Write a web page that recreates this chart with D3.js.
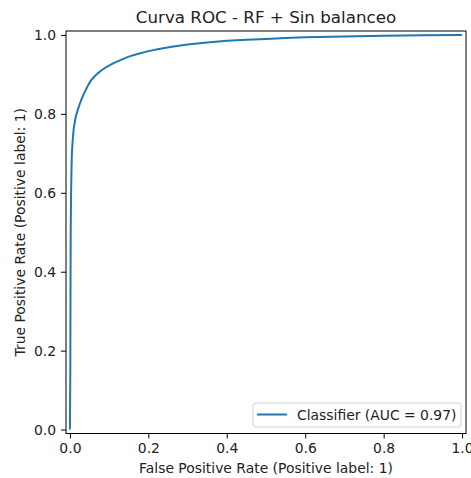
<!DOCTYPE html>
<html><head><meta charset="utf-8">
<script src="https://cdn.jsdelivr.net/npm/d3@7"></script>
<style>
html,body{margin:0;padding:0;background:#fff;}
svg{display:block;font-family:"DejaVu Sans",sans-serif;}
</style></head>
<body>
<svg id="chart" width="471" height="478"></svg>
<script>
const fpr = [0, 0.001, 0.0015, 0.002, 0.003, 0.004, 0.005, 0.0075, 0.01, 0.015, 0.02, 0.025, 0.03, 0.036, 0.045, 0.053, 0.06, 0.07, 0.08, 0.095, 0.11, 0.13, 0.15, 0.17, 0.2, 0.23, 0.26, 0.3, 0.35, 0.4, 0.45, 0.5, 0.55, 0.6, 0.7, 0.8, 0.9, 1.0];
const tpr = [0, 0.15, 0.35, 0.5, 0.6, 0.66, 0.70, 0.74, 0.765, 0.793, 0.81, 0.825, 0.838, 0.852, 0.87, 0.884, 0.892, 0.902, 0.91, 0.92, 0.928, 0.937, 0.945, 0.951, 0.959, 0.965, 0.970, 0.976, 0.981, 0.985, 0.988, 0.990, 0.992, 0.994, 0.996, 0.998, 0.999, 1.0];
const xTicks = [0, 0.2, 0.4, 0.6, 0.8, 1.0];
const yTicks = [0, 0.2, 0.4, 0.6, 0.8, 1.0];
const title = "Curva ROC - RF + Sin balanceo";
const xLabel = "False Positive Rate (Positive label: 1)";
const yLabel = "True Positive Rate (Positive label: 1)";
const legendLabel = "Classifier (AUC = 0.97)";

const L = 66, R = 466, T = 31, B = 433.5;
const FS = 13.9;
const svg = d3.select("#chart");
const x = d3.scaleLinear().domain([-0.01, 1.01]).range([L, R]);
const y = d3.scaleLinear().domain([-0.01, 1.01]).range([B, T]);
const color = "#1f77b4";

// curve
const pts = fpr.map((d, i) => [d, tpr[i]]);
svg.append("path")
  .datum(pts)
  .attr("fill", "none")
  .attr("stroke", color)
  .attr("stroke-width", 2)
  .attr("stroke-linejoin", "round")
  .attr("d", d3.line().x(d => x(d[0])).y(d => y(d[1])));

// axes
const xAxis = d3.axisBottom(x).tickValues(xTicks).tickFormat(d3.format(".1f")).tickSizeOuter(0).tickSize(5).tickPadding(5);
const yAxis = d3.axisLeft(y).tickValues(yTicks).tickFormat(d3.format(".1f")).tickSizeOuter(0).tickSize(5).tickPadding(5);
const gx = svg.append("g").attr("transform", `translate(0,${B})`).call(xAxis);
const gy = svg.append("g").attr("transform", `translate(${L},0)`).call(yAxis);
[gx, gy].forEach(g => {
  g.select(".domain").remove();
  g.selectAll(".tick line").attr("stroke", "#000").attr("stroke-width", 1);
  g.selectAll(".tick text").attr("fill", "#222").attr("font-size", FS).attr("font-family", "DejaVu Sans");
});

// frame
svg.append("rect")
  .attr("x", L).attr("y", T).attr("width", R - L).attr("height", B - T)
  .attr("fill", "none").attr("stroke", "#000").attr("stroke-width", 1);

// title & labels
svg.append("text").attr("x", (L + R) / 2).attr("y", 23).attr("text-anchor", "middle")
  .attr("font-size", 16.7).attr("fill", "#222").text(title);
svg.append("text").attr("x", (L + R) / 2).attr("y", 472.5).attr("text-anchor", "middle")
  .attr("font-size", FS).attr("fill", "#222").text(xLabel);
svg.append("text").attr("transform", `translate(25,${(T + B) / 2}) rotate(-90)`).attr("text-anchor", "middle")
  .attr("font-size", FS).attr("fill", "#222").text(yLabel);

// legend
const lg = svg.append("g");
lg.append("rect").attr("x", 253).attr("y", 403).attr("width", 208).attr("height", 24)
  .attr("rx", 3).attr("fill", "#fff").attr("fill-opacity", 0.8)
  .attr("stroke", "#d0d0d0").attr("stroke-width", 1);
lg.append("line").attr("x1", 257).attr("x2", 287).attr("y1", 414.5).attr("y2", 414.5)
  .attr("stroke", color).attr("stroke-width", 2);
lg.append("text").attr("x", 297).attr("y", 419.5).attr("font-size", FS).attr("fill", "#222").text(legendLabel);
</script>
</body></html>
